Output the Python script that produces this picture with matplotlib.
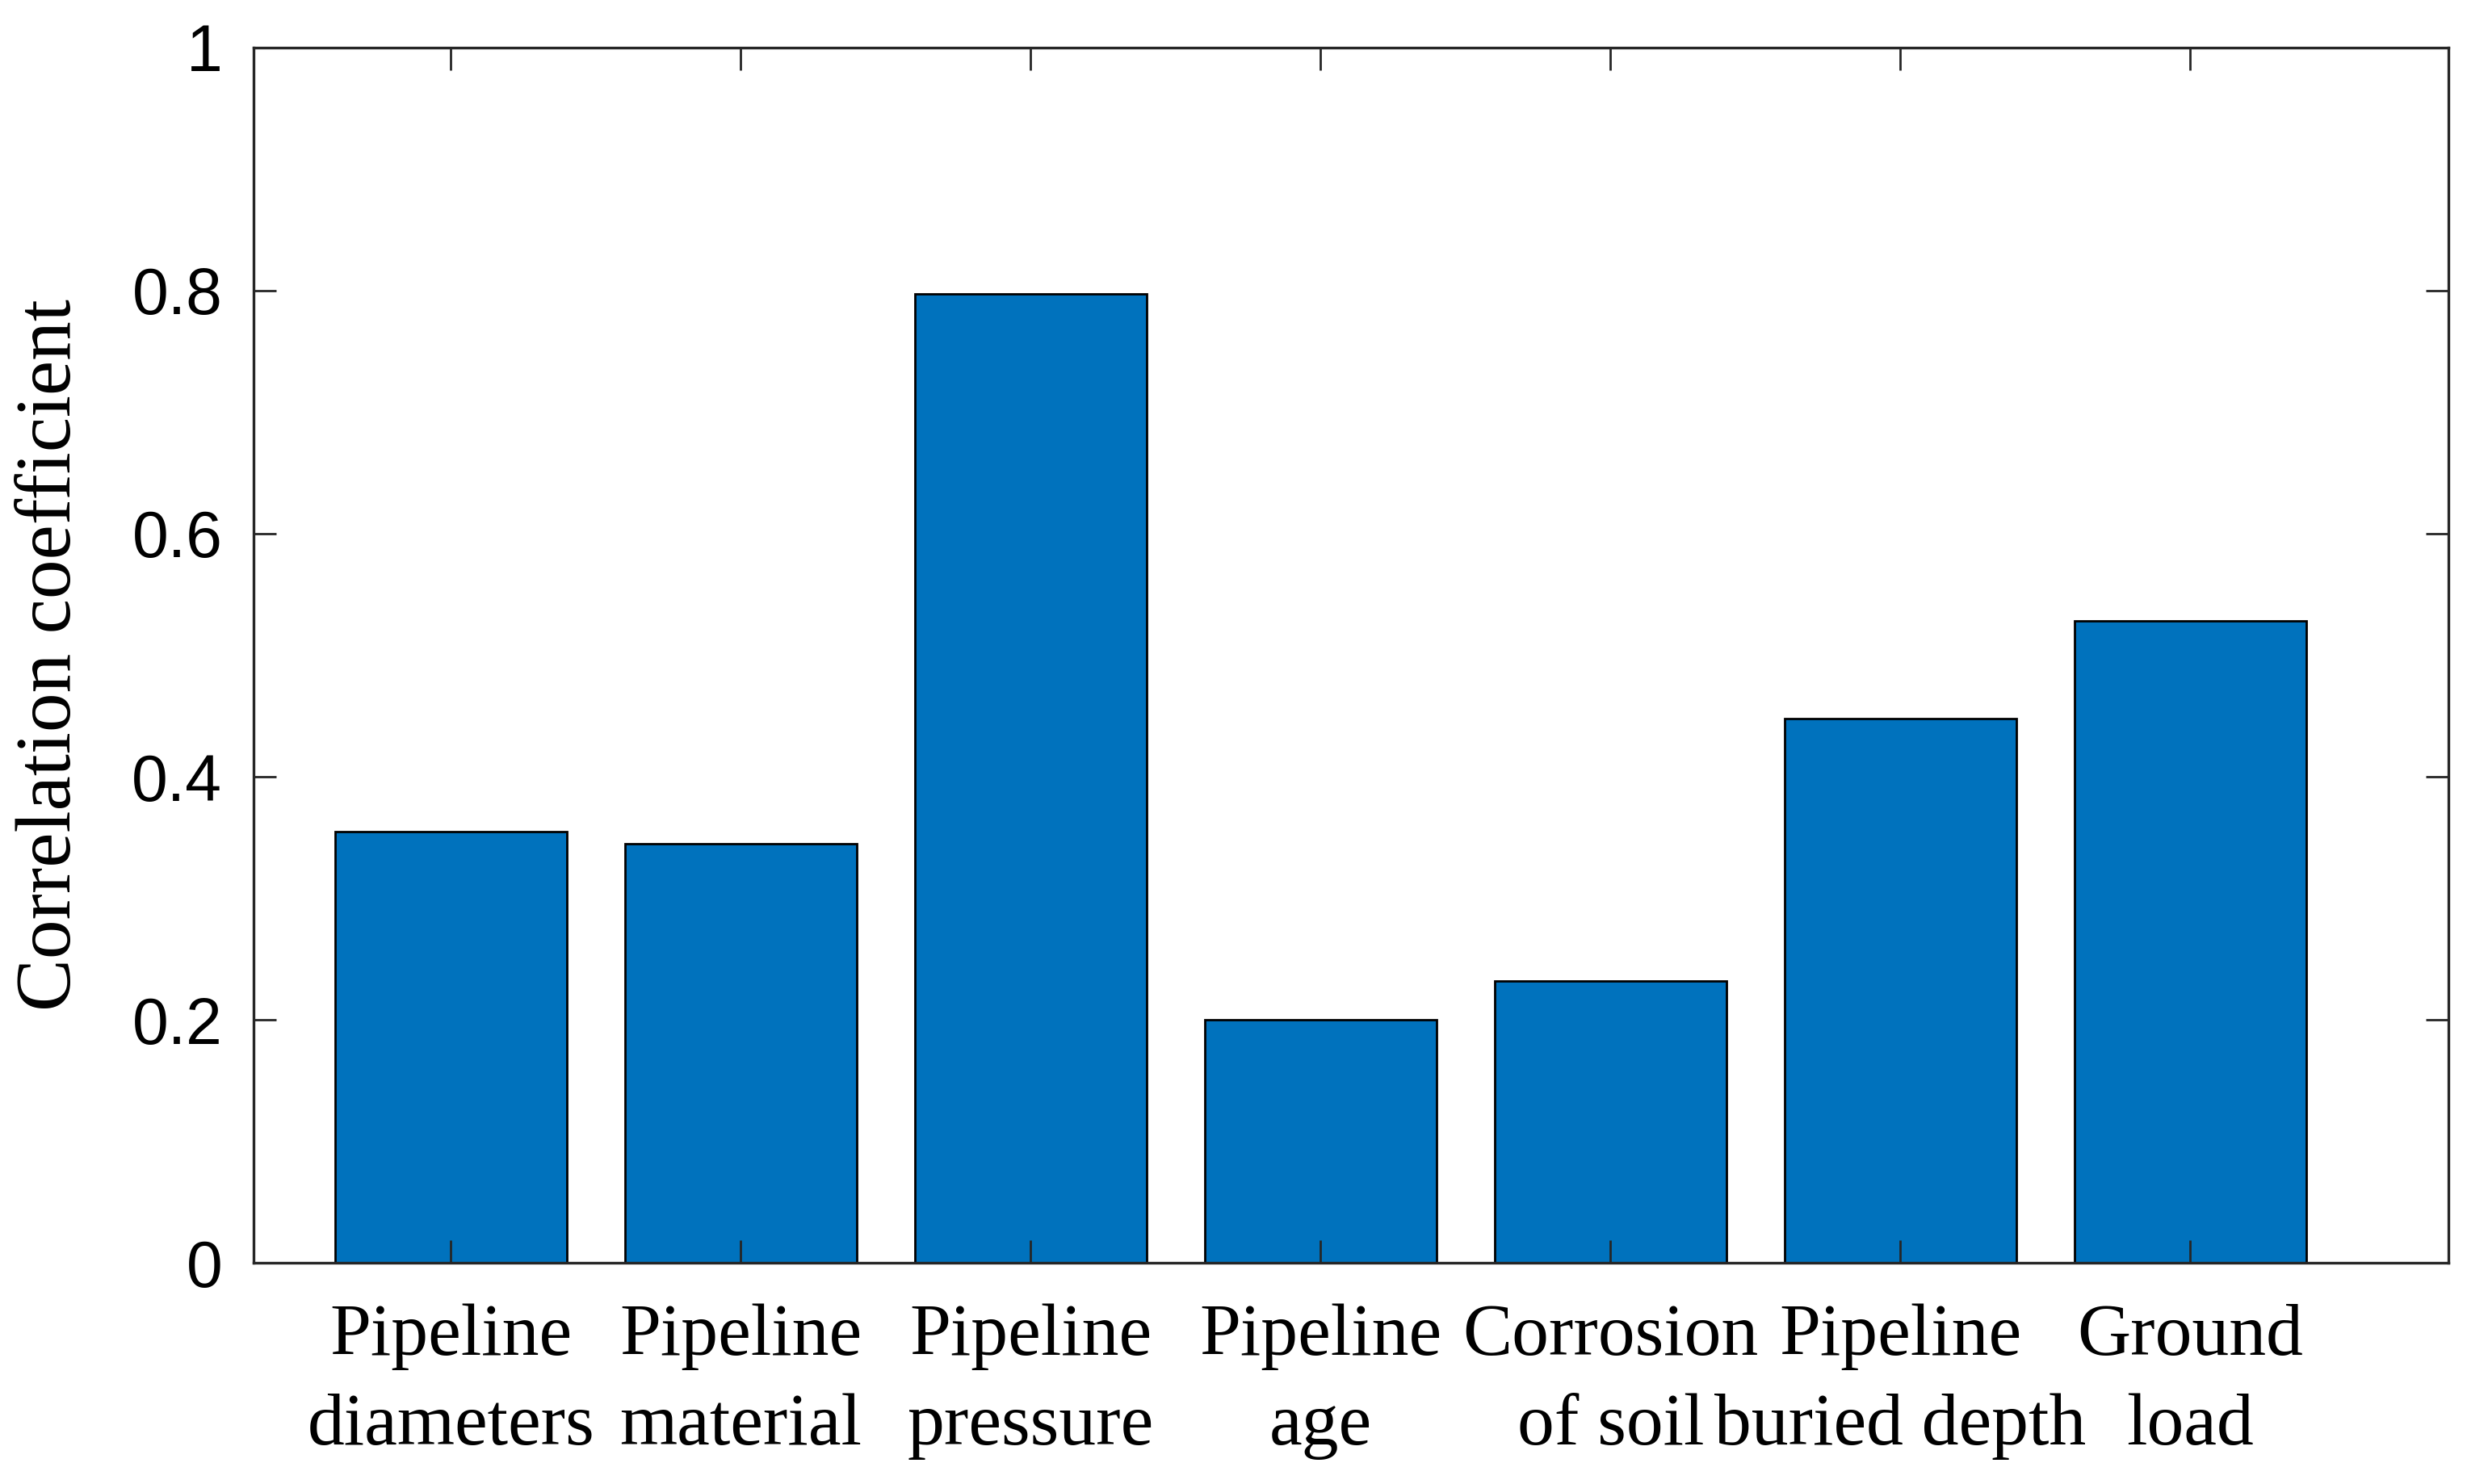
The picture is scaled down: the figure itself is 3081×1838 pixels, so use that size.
import numpy as np
import matplotlib
matplotlib.use("Agg")
import matplotlib.pyplot as plt

# Datos (etiqueta en dos renglones)
renglon1 = ["Pipeline", "Pipeline", "Pipeline", "Pipeline", "Corrosion", "Pipeline", "Ground"]
renglon2 = ["diameters", "material", "pressure", "age", "of soil", "buried depth", "load"]
valores = [0.355, 0.345, 0.797, 0.200, 0.232, 0.448, 0.528]
yticks = [0, 0.2, 0.4, 0.6, 0.8, 1]
ytick_labels = ["0", "0.2", "0.4", "0.6", "0.8", "1"]

fig = plt.figure(figsize=(15.405, 9.19), dpi=200)
ax = fig.add_axes([0.102, 0.149, 0.882, 0.819])

x = np.arange(1, len(valores) + 1)
ax.bar(x, valores, width=0.8, color="#0072BD", edgecolor="black", linewidth=1.0)

ax.set_xlim(0.32, 7.89)
ax.set_ylim(0, 1)

# primer renglon en ticks mayores, segundo en menores en la misma posicion
ax.set_xticks(x)
ax.set_xticklabels(renglon1, family="Liberation Serif", fontsize=33)
ax.xaxis.remove_overlapping_locs = False
ax.set_xticks(x, minor=True)
ax.set_xticklabels(renglon2, minor=True, family="Liberation Serif", fontsize=33)

ax.set_yticks(yticks)
ax.set_yticklabels(ytick_labels, family="Liberation Sans", fontsize=29)
ax.set_ylabel("Correlation coefficient", family="Liberation Serif", fontsize=35, labelpad=20)

# Ticks hacia adentro en los cuatro lados
ax.tick_params(direction="in", length=10, width=1, color="#262626", top=True, right=True)
ax.tick_params(axis="x", which="major", pad=18)
ax.tick_params(axis="x", which="minor", length=0, pad=18 + 40, top=False)
ax.tick_params(axis="y", pad=14)
for s in ax.spines.values():
    s.set_color("#262626")
    s.set_linewidth(1.2)

fig.savefig("out.png", dpi=200)
